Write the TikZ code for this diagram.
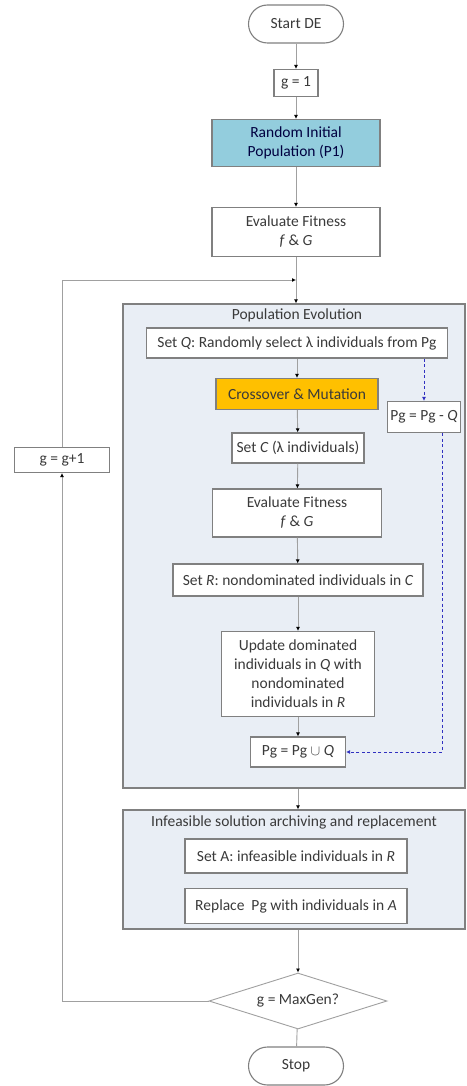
\documentclass[tikz,border=0pt]{standalone}
\usepackage{fontspec}
\setmainfont{Carlito}
\usetikzlibrary{shapes.geometric,arrows.meta}
\definecolor{boxgray}{HTML}{808080}
\definecolor{linegray}{HTML}{A0A0A0}
\definecolor{txt}{HTML}{3A3A3A}
\definecolor{contfill}{HTML}{E9EEF5}
\definecolor{teal}{HTML}{93CDDD}
\definecolor{gold}{HTML}{FFC000}
\definecolor{dblue}{HTML}{3030C0}
\begin{document}
\begin{tikzpicture}[x=1pt,y=-1pt,
  font=\fontsize{15.5}{19}\selectfont, text=txt,
  box/.style={draw=boxgray, line width=1.1pt, fill=white, align=center, inner sep=1pt},
  term/.style={box, rounded corners=19pt, minimum width=95pt, minimum height=38pt},
  cont/.style={draw=boxgray, line width=1.3pt, fill=contfill, inner sep=0pt},
  conn/.style={draw=linegray, line width=0.9pt, -{Latex[length=4pt,width=4pt,color=black]}},
  plain/.style={draw=linegray, line width=0.9pt},
  dconn/.style={draw=dblue, line width=0.9pt, dashed, dash pattern=on 3pt off 2.5pt}
]
\useasboundingbox (0,0) rectangle (466,1086);
\fill[white] (0,0) rectangle (466,1086);

% containers
\node[cont, minimum width=342pt, minimum height=484pt] (pe) at (294,546) {};
\node[cont, minimum width=342pt, minimum height=119pt] (ia) at (294,869.5) {};
\node (pet) at (297,315) {Population Evolution};
\node (iat) at (294,822) {Infeasible solution archiving and replacement};

% main nodes
\node[term] (start) at (296,24) {Start DE};
\node[box, minimum width=44pt, minimum height=27pt] (g1) at (296,83) {g = 1};
\node[box, fill=teal, text=black!75!blue, minimum width=168pt, minimum height=47pt] (rip) at (296,143) {Random Initial\\Population (P1)};
\node[box, minimum width=168pt, minimum height=49pt] (ef) at (296,232) {Evaluate Fitness\\\textit{f} \& \textit{G}};

\node[box, minimum width=301pt, minimum height=30pt] (sq) at (297,343) {Set \textit{Q}: Randomly select λ individuals from Pg};
\node[box, fill=gold, minimum width=162pt, minimum height=31pt] (cm) at (297,394) {Crossover \& Mutation};
\node[box, minimum width=73pt, minimum height=31pt] (pgq) at (424,417) {Pg = Pg - \textit{Q}};
\node[box, minimum width=132pt, minimum height=30pt] (sc) at (298,448) {Set \textit{C} (λ individuals)};
\node[box, minimum width=169pt, minimum height=48pt] (ef2) at (297,513) {Evaluate Fitness\\\textit{f} \& \textit{G}};
\node[box, minimum width=250pt, minimum height=32pt] (sr) at (298,580) {Set \textit{R}: nondominated individuals in \textit{C}};
\node[box, minimum width=153pt, minimum height=85pt] (ud) at (298,674) {Update dominated\\individuals in \textit{Q} with\\nondominated\\individuals in \textit{R}};
\node[box, minimum width=95pt, minimum height=30pt] (pgu) at (298,752) {Pg = Pg $\cup$ \textit{Q}};

\node[box, minimum width=222pt, minimum height=34pt] (sa) at (296,856) {Set A: infeasible individuals in \textit{R}};
\node[box, minimum width=222pt, minimum height=35pt] (rp) at (296,906) {Replace\ \ Pg with individuals in \textit{A}};

\node[diamond, draw=linegray, line width=0.9pt, fill=white, aspect=3.2, inner sep=0pt, minimum width=178pt, minimum height=56pt] (dia) at (298,1001) {g = MaxGen?};
\node[term] (stop) at (296,1066) {Stop};

\node[box, minimum width=95pt, minimum height=25pt] (gg) at (62,460) {g = g+1};
\coordinate (lj) at (296,280);

% connectors
\draw[conn] (start) -- (g1);
\draw[conn] (g1) -- (rip);
\draw[conn] (rip) -- (ef);
\draw[conn] (ef) -- (pe.north -| ef.south);
\draw[conn] (sq) -- (cm);
\draw[conn] (cm) -- (sc);
\draw[conn] (sc) -- (ef2);
\draw[conn] (ef2) -- (sr);
\draw[conn] (sr) -- (ud);
\draw[conn] (ud) -- (pgu);
\draw[conn] (pe.south -| pgu.south) -- (ia.north -| pgu.south);
\draw[conn] (ia.south -| dia.north) -- (dia.north);
\draw[plain] (dia) -- (stop);
\draw[conn] (dia.west) -| (gg.south);
\draw[conn] (gg.north) |- (lj);
\draw[dconn, -{Latex[length=4pt,width=4pt]}] (pgq.north |- sq.south) -- (pgq.north);
\draw[dconn, -{Latex[length=4pt,width=4pt]}] ([xshift=18pt]pgq.south) |- (pgu.east);
\end{tikzpicture}
\end{document}
